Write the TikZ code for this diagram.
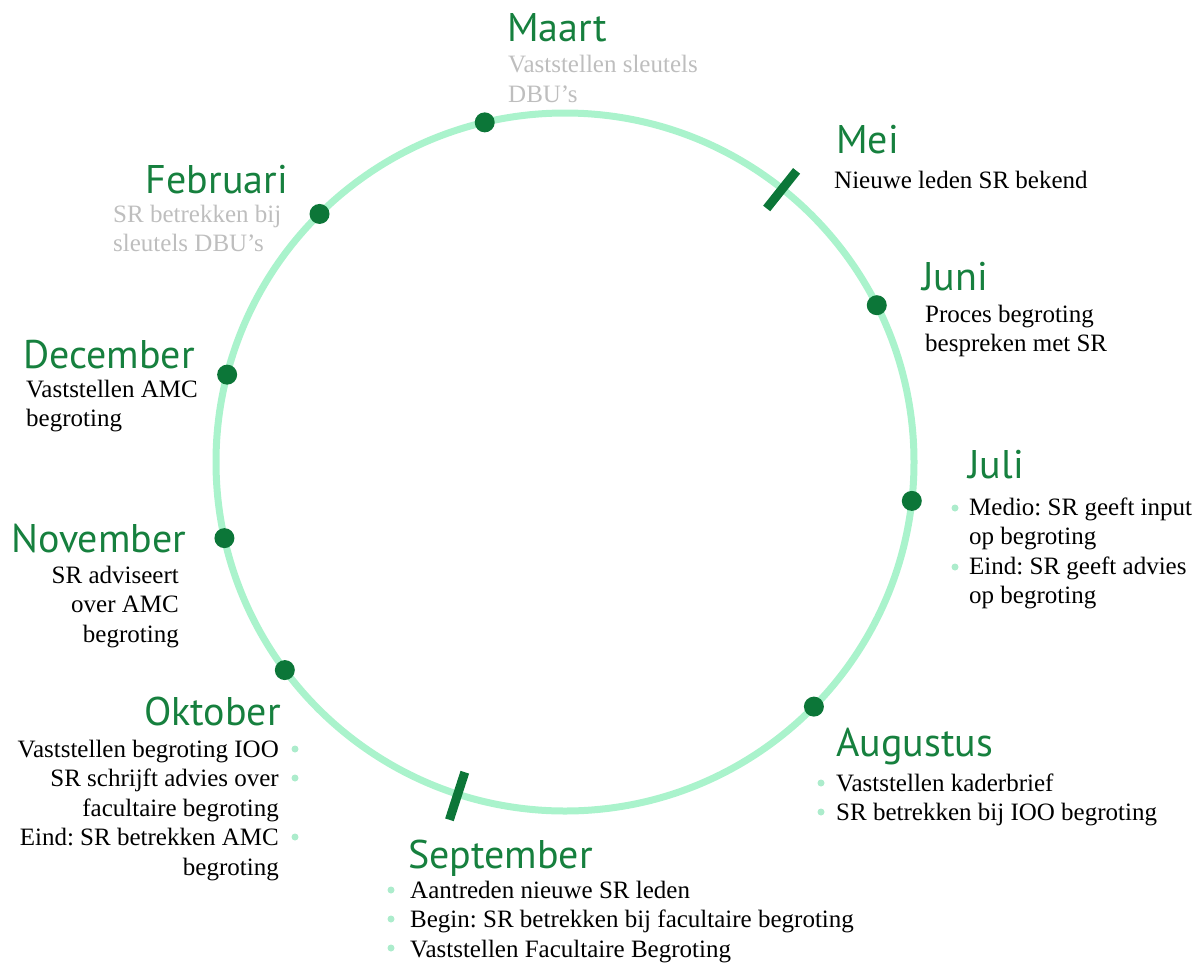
\documentclass[tikz,border=0pt]{standalone}
\usepackage{fontspec}
\setmainfont{Liberation Serif}
\newfontfamily\titlefont{PT Sans}
\definecolor{ringcol}{RGB}{170,243,204}
\definecolor{dotcol}{RGB}{12,118,56}
\definecolor{titlecol}{RGB}{22,128,62}
\definecolor{greycol}{RGB}{190,190,190}
\definecolor{bulletcol}{RGB}{172,236,204}
\frenchspacing
\begin{document}
\begin{tikzpicture}[x=1pt,y=-1pt,
  month/.style={font=\titlefont\fontsize{40}{40}\selectfont, text=titlecol, inner sep=0pt},
  body/.style={font=\fontsize{25}{29.5}\selectfont\frenchspacing, text=black, inner sep=0pt},
  greybody/.style={body, text=greycol},
  dot/.style={circle, fill=dotcol, minimum size=20pt, inner sep=0pt},
  tickmark/.style={draw=dotcol, line width=9pt},
  bul/.style={fill=bulletcol}
]
\useasboundingbox (0,0) rectangle (1202,967);
\coordinate (c) at (565,462);
\draw[ringcol, line width=7pt] (c) circle (349);
% dots
\path (c) ++(-103.3:349) node[dot] (dmaart) {};
\path (c) ++(-134.7:349) node[dot] (dfeb) {};
\path (c) ++(-165.5:349) node[dot] (ddec) {};
\path (c) ++(-192.6:349) node[dot] (dnov) {};
\path (c) ++(-216.6:349) node[dot] (dokt) {};
\path (c) ++(44.5:349) node[dot] (daug) {};
\path (c) ++(6.4:349) node[dot] (djuli) {};
\path (c) ++(-26.7:349) node[dot] (djuni) {};
% ticks
\draw[tickmark] (c) ++(-51.5:324) -- ++(-51.5:48);
\draw[tickmark] (c) ++(-252.1:326) -- ++(-252.1:50);
% Maart (base anchor of multi-line nodes = last line)
\node[month, anchor=base west] (tmaart) at (507,41) {Maart};
\node[greybody, anchor=base west, align=left] (bmaart) at (508,102) {Vaststellen sleutels\\DBU’s};
% Februari
\node[month, anchor=base east] (tfeb) at (288,193) {Februari};
\node[greybody, anchor=base west, align=left] (bfeb) at (113,251.5) {SR betrekken bij\\sleutels DBU’s};
% December
\node[month, anchor=base west] (tdec) at (23,368) {December};
\node[body, anchor=base west, align=left] (bdec) at (26,426.5) {Vaststellen AMC\\begroting};
% November
\node[month, anchor=base west] (tnov) at (11,552) {November};
\node[body, anchor=base east, align=right] (bnov) at (179,642) {SR adviseert\\over AMC\\begroting};
% Oktober
\node[month, anchor=base east] (tokt) at (281,725) {Oktober};
\node[body, anchor=base east, align=right] (bokt) at (279,875) {Vaststellen begroting IOO\\SR schrijft advies over\\facultaire begroting\\Eind: SR betrekken AMC\\begroting};
\fill[bul] (295,749) circle (3.5);
\fill[bul] (295,778) circle (3.5);
\fill[bul] (295,837) circle (3.5);
% September
\node[month, anchor=base west] (tsep) at (408,868) {September};
\node[body, anchor=base west, align=left] (bsep) at (410,957) {Aantreden nieuwe SR leden\\Begin: SR betrekken bij facultaire begroting\\Vaststellen Facultaire Begroting};
\fill[bul] (391,890) circle (3.5);
\fill[bul] (391,919) circle (3.5);
\fill[bul] (391,948) circle (3.5);
% Augustus
\node[month, anchor=base west] (taug) at (836,756) {Augustus};
\node[body, anchor=base west, align=left] (baug) at (836,820.5) {Vaststellen kaderbrief\\SR betrekken bij IOO begroting};
\fill[bul] (821,783) circle (3.5);
\fill[bul] (821,812) circle (3.5);
% Juli
\node[month, anchor=base west] (tjuli) at (968,478) {Juli};
\node[body, anchor=base west, align=left] (bjuli) at (969,603.5) {Medio: SR geeft input\\op begroting\\Eind: SR geeft advies\\op begroting};
\fill[bul] (955,508) circle (3.5);
\fill[bul] (955,567) circle (3.5);
% Juni
\node[month, anchor=base west] (tjuni) at (922,290) {Juni};
\node[body, anchor=base west, align=left] (bjuni) at (925,351.5) {Proces begroting\\bespreken met SR};
% Mei
\node[month, anchor=base west] (tmei) at (836,153) {Mei};
\node[body, anchor=base west] (bmei) at (834,188) {Nieuwe leden SR bekend};
\end{tikzpicture}
\end{document}
